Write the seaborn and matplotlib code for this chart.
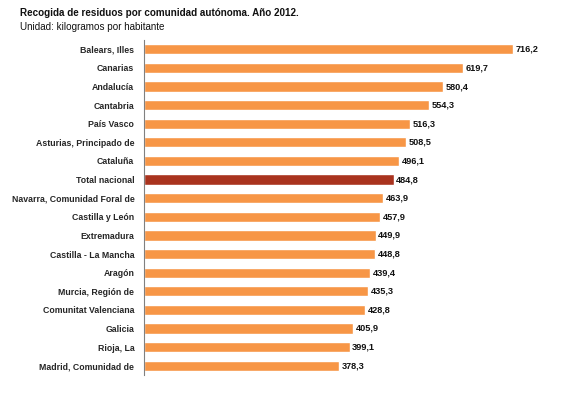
import pandas as pd
import matplotlib.pyplot as plt
import seaborn as sns

# Recogida de residuos por comunidad autónoma, año 2012 (kg por habitante)
comunidades = ['Balears, Illes', 'Canarias', 'Andalucía', 'Cantabria', 'País Vasco',
               'Asturias, Principado de', 'Cataluña', 'Total nacional',
               'Navarra, Comunidad Foral de', 'Castilla y León', 'Extremadura',
               'Castilla - La Mancha', 'Aragón', 'Murcia, Región de',
               'Comunitat Valenciana', 'Galicia', 'Rioja, La', 'Madrid, Comunidad de']
kg_habitante = [716.2, 619.7, 580.4, 554.3, 516.3, 508.5, 496.1, 484.8, 463.9, 457.9,
                449.9, 448.8, 439.4, 435.3, 428.8, 405.9, 399.1, 378.3]

data = pd.DataFrame({'comunidad': comunidades, 'kg': kg_habitante})
colores = {c: ('#A9331E' if c == 'Total nacional' else '#F79646') for c in comunidades}

sns.set_style('white')
plt.rcParams['font.family'] = ['Liberation Sans', 'DejaVu Sans']

fig = plt.figure(figsize=(5.74, 3.95), dpi=100)
ax = fig.add_axes([144 / 574, 1 - 375 / 395, (545 - 144) / 574, (375 - 40) / 395])

sns.barplot(data=data, x='kg', y='comunidad', hue='comunidad', palette=colores,
            order=comunidades, width=0.55, legend=False, ax=ax, saturation=1)

ax.set_xlim(0, (545 - 144) / 0.515)
ax.set_ylim(len(comunidades) - 0.5, -0.5)
ax.set_xlabel('')
ax.set_ylabel('')
ax.set_xticks([])
ax.tick_params(axis='y', length=0, pad=7, labelsize=6.3)
for lbl in ax.get_yticklabels():
    lbl.set_fontweight('bold')

for s in ['top', 'right', 'bottom']:
    ax.spines[s].set_visible(False)
ax.spines['left'].set_color('#808080')
ax.spines['left'].set_linewidth(0.8)

# Etiquetas de valor con coma decimal
for i, v in enumerate(kg_habitante):
    ax.text(v + 5, i, f'{v:.1f}'.replace('.', ','), va='center', ha='left',
            fontsize=6.6, fontweight='bold', color='#111111')

fig.text(20 / 574, 1 - 16 / 395, 'Recogida de residuos por comunidad autónoma. Año 2012.',
         fontsize=7.1, fontweight='bold', va='baseline', color='#111111')
fig.text(20 / 574, 1 - 30 / 395, 'Unidad: kilogramos por habitante',
         fontsize=7.1, va='baseline', color='#111111')

fig.savefig('out.png', dpi=100)
